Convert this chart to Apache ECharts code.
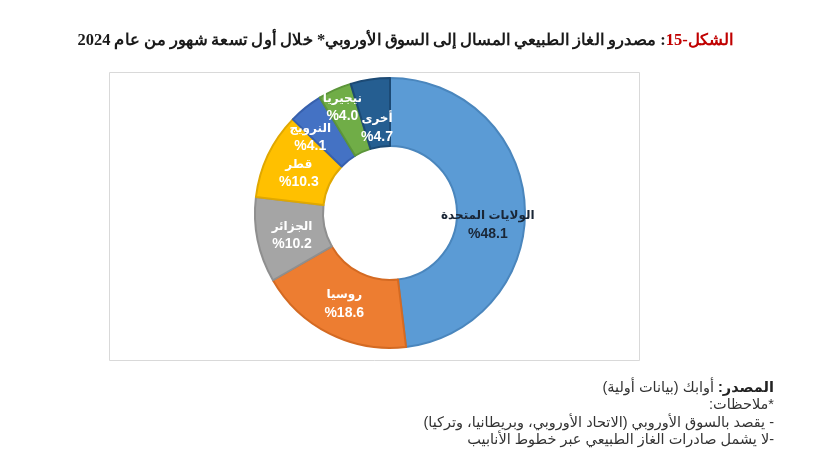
<!DOCTYPE html>
<html dir="rtl"><head><meta charset="utf-8">
<script src="https://cdn.jsdelivr.net/npm/echarts@6/dist/echarts.min.js"></script>
<style>html,body{margin:0;padding:0;background:#fff;overflow:hidden}#c{width:835px;height:464px;direction:rtl}</style>
</head><body><div id="c"></div>
<script>
const categories = ['الولايات المتحدة','روسيا','الجزائر','قطر','النرويج','نيجيريا','أخرى'];
const shares = [48.1, 18.6, 10.2, 10.3, 4.1, 4.0, 4.7];
const colors = ['#5B9BD5','#ED7D31','#A5A5A5','#FFC000','#4472C4','#70AD47','#255E91'];
const borders = ['#4a86bd','#d46a22','#8f8f8f','#e0a800','#3760ad','#5c953a','#1c4a75'];
const labelColors = ['#1a2636','#ffffff','#ffffff','#ffffff','#ffffff','#ffffff','#ffffff'];
// small label nudges (Excel-style best-fit placement)
const labelNudgeX = [-4, 0, 2, 1, -16, 1, 2];
const labelNudgeY = [18, 0, 2, 4, 4, 3, 16];
const titleRed = 'الشكل-15';
const titleRest = ': مصدرو الغاز الطبيعي المسال إلى السوق الأوروبي* خلال أول تسعة شهور من عام 2024';
const notes = [
  ['المصدر:', ' أوابك (بيانات أولية)'],
  ['', '*ملاحظات:'],
  ['', '- يقصد بالسوق الأوروبي (الاتحاد الأوروبي، وبريطانيا، وتركيا)'],
  ['', '-لا يشمل صادرات الغاز الطبيعي عبر خطوط الأنابيب']
];
const chart = echarts.init(document.getElementById('c'), null, {renderer:'canvas'});
const ff = 'Liberation Sans, DejaVu Sans, Arial, sans-serif';
const graphics = [
  {type:'rect', shape:{x:109.5,y:72.5,width:530,height:288}, style:{fill:'#fff',stroke:'#d9d9d9',lineWidth:1}, z:-1},
  {type:'text', x: 733, y: 41, scaleX: 1.028, style:{
    text: '{b|' + titleRest + '}{r|' + titleRed + '}',
    align:'right', verticalAlign:'middle',
    rich:{
      r:{fill:'#C00000', font:'bold 16px "Liberation Serif", "DejaVu Serif", serif'},
      b:{fill:'#1a1a1a', font:'bold 16px "Liberation Serif", "DejaVu Serif", serif'}
    }
  }}
];
const ys = [380, 397, 415, 432];
notes.forEach((n,i)=>{
  graphics.push({type:'text', right: 835-774, top: ys[i], style:{
    text: '{t|'+n[1]+'}' + (n[0] ? '{h|'+n[0]+'}' : ''),
    rich:{ h:{fill:'#222', font:'bold 14.5px '+ff}, t:{fill:'#333', font:'14.5px '+ff} }
  }});
});
const pieData = categories.map((c,i)=>({
  name:c, value:shares[i],
  itemStyle:{color:colors[i], borderColor:borders[i], borderWidth:2}
}));
function labelData(showIdx){
  return categories.map((c,i)=>({
    name:c, value:shares[i],
    label:{show: showIdx(i), color:labelColors[i], rich:{n:{color:labelColors[i]}, v:{color:labelColors[i]}}}
  }));
}
const labelCfg = {
  show:true, position:'inside',
  formatter: p => '{n|' + p.name + '}\n{v|%' + p.value.toFixed(1) + '}',
  rich:{
    n:{fontSize:12, fontWeight:'bold', fontFamily:ff, lineHeight:18},
    v:{fontSize:14, fontWeight:'bold', fontFamily:ff, lineHeight:18}
  }
};
const nudge = p => ({dx: labelNudgeX[p.dataIndex], dy: labelNudgeY[p.dataIndex], hideOverlap:false});
chart.setOption({
  animation:false,
  graphic: graphics,
  series:[{
    type:'pie',
    center:[390,213],
    radius:[67,135],
    startAngle:90,
    clockwise:true,
    label:{show:false},
    labelLine:{show:false},
    data: pieData
  },{
    type:'pie',
    center:[390,213],
    radius:[40,158],
    startAngle:90,
    clockwise:true,
    silent:true,
    avoidLabelOverlap:false,
    labelLayout: nudge,
    itemStyle:{color:'rgba(0,0,0,0)'},
    label: labelCfg,
    labelLine:{show:false},
    data: labelData(i => categories[i] !== 'نيجيريا')
  },{
    type:'pie',
    center:[390,213],
    radius:[60,172],
    startAngle:90,
    clockwise:true,
    silent:true,
    avoidLabelOverlap:false,
    labelLayout: nudge,
    itemStyle:{color:'rgba(0,0,0,0)'},
    label: labelCfg,
    labelLine:{show:false},
    data: labelData(i => categories[i] === 'نيجيريا')
  }]
});
</script></body></html>
